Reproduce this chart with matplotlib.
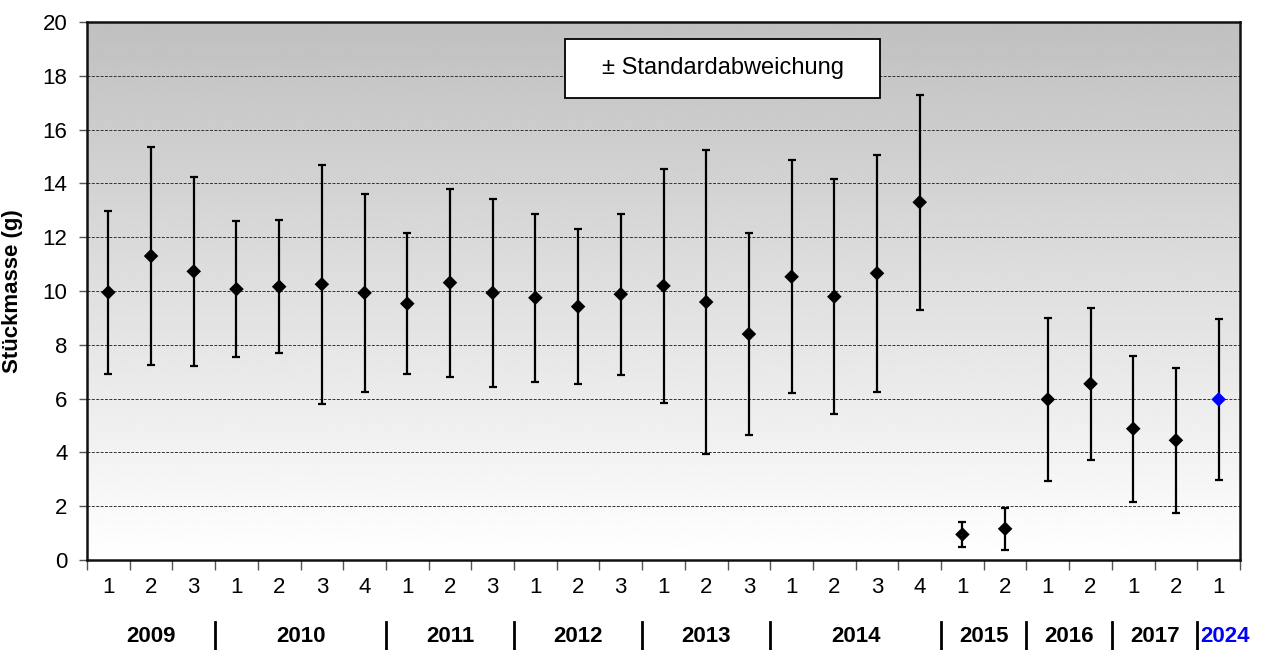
import numpy as np
import matplotlib
matplotlib.use("Agg")
import matplotlib.pyplot as plt
from matplotlib.patches import Rectangle
from matplotlib.lines import Line2D
import matplotlib.transforms as mtransforms

plt.rcParams['font.family'] = ['Liberation Sans', 'DejaVu Sans']

## data
years = ['2009', '2010', '2011', '2012', '2013', '2014', '2015', '2016', '2017', '2024']
year_counts = [3, 4, 3, 3, 3, 4, 2, 2, 2, 1]
sample_labels = ['1', '2', '3', '1', '2', '3', '4', '1', '2', '3', '1', '2', '3',
                 '1', '2', '3', '1', '2', '3', '4', '1', '2', '1', '2', '1', '2', '1']
mean_mass = [9.95, 11.3, 10.73, 10.07, 10.16, 10.25, 9.93, 9.53, 10.31, 9.93, 9.75, 9.42, 9.88,
             10.19, 9.59, 8.4, 10.53, 9.79, 10.66, 13.3, 0.95, 1.16, 5.97, 6.55, 4.88, 4.45, 5.97]
std_mass = [3.02, 4.05, 3.5, 2.52, 2.47, 4.44, 3.69, 2.62, 3.5, 3.49, 3.12, 2.87, 3.0,
            4.35, 5.64, 3.74, 4.33, 4.38, 4.4, 4.0, 0.45, 0.78, 3.04, 2.83, 2.71, 2.7, 2.98]
highlight_year = '2024'

n = len(mean_mass)
x = np.arange(n)

fig = plt.figure(figsize=(12.62, 6.5), dpi=100)
ax = fig.add_axes([87/1262, 90/650, 1153/1262, 538/650])

# gray-to-white background
grad = np.linspace(0.753, 1.0, 256).reshape(-1, 1)
ax.imshow(grad, extent=[0, 1, 0, 1], transform=ax.transAxes, aspect='auto',
          cmap='gray', vmin=0, vmax=1, zorder=0, interpolation='bilinear')

ax.set_xlim(-0.5, n - 0.5)
ax.set_ylim(0, 20)
ax.set_yticks(np.arange(0, 21, 2))
ax.yaxis.grid(True, linestyle=(0, (3, 1.5)), color='#333333', linewidth=0.7, zorder=1)
ax.set_axisbelow(True)

ax.errorbar(x, mean_mass, yerr=std_mass, fmt='none', ecolor='black',
            elinewidth=1.6, capsize=3.2, capthick=1.6, zorder=3)

colors = []
for yr, cnt in zip(years, year_counts):
    colors += ['#0000ff' if yr == highlight_year else 'black'] * cnt
ax.scatter(x, mean_mass, marker='D', s=55, c=colors, zorder=4, linewidths=0)

# x ticks at category boundaries, labels at centres
ax.set_xticks(np.arange(-0.5, n, 1.0))
ax.set_xticklabels([])
ax.set_xticks(x, minor=True)
ax.set_xticklabels(sample_labels, minor=True)
ax.tick_params(axis='x', which='major', direction='out', length=7, width=1, color='#555555')
ax.tick_params(axis='x', which='minor', length=0, pad=12, labelsize=16)
ax.tick_params(axis='y', direction='out', length=6, width=1, color='#555555', labelsize=16, pad=8)

for sp in ax.spines.values():
    sp.set_linewidth(1.8)
    sp.set_color('#111111')

ax.set_ylabel('Stückmasse (g)', fontsize=16, fontweight='bold')
ax.yaxis.set_label_coords(-64/1153, 0.5)

# year labels and separators below
trans = mtransforms.blended_transform_factory(ax.transData, ax.transAxes)
start = 0
for i, (yr, cnt) in enumerate(zip(years, year_counts)):
    center = start + (cnt - 1) / 2
    col = '#0000ff' if yr == highlight_year else 'black'
    if yr == highlight_year:
        center += 0.15
    ax.text(center, -0.143, yr, transform=trans, ha='center', va='center',
            fontsize=16, fontweight='bold', color=col)
    if i > 0:
        b = start - 0.5
        ax.add_line(Line2D([b, b], [-0.115, -0.166], transform=trans, color='black',
                           linewidth=2, clip_on=False))
    start += cnt

# legend-like box
ax.add_patch(Rectangle((0.4146, 0.8587), 0.2732, 0.1097, transform=ax.transAxes,
                       facecolor='white', edgecolor='black', linewidth=1.3, zorder=5))
ax.text(0.5512, 0.9136, '± Standardabweichung', transform=ax.transAxes, ha='center',
        va='center', fontsize=17, zorder=6)

fig.savefig('out.png', dpi=100)
